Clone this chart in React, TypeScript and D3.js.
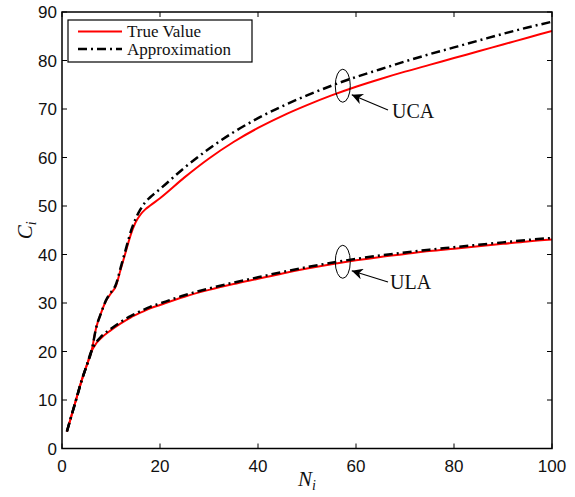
import React from "react";
import * as d3 from "d3";

const xTicks = [0, 20, 40, 60, 80, 100];
const yTicks = [0, 10, 20, 30, 40, 50, 60, 70, 80, 90];

const ucaN = [1, 2, 3, 4, 5, 6, 7, 8, 9, 10, 11, 12, 13, 14, 15, 16, 17, 18, 20, 25, 30, 35, 40, 45, 50, 55, 60, 65, 70, 75, 80, 85, 90, 95, 100];
const ucaTrue = [3.5, 7, 10.5, 14, 17, 20, 25, 28, 30.5, 32, 33.5, 37, 40.5, 44, 46.6, 48.2, 49.3, 50.1, 51.6, 55.9, 59.8, 63.2, 66.1, 68.6, 70.8, 72.8, 74.6, 76.2, 77.7, 79.1, 80.5, 81.9, 83.3, 84.7, 86.1];
const ucaApprox = [3.5, 7, 10.5, 14, 17, 20, 25, 28, 30.6, 32.2, 33.8, 37.4, 41, 44.6, 47.3, 49.3, 50.8, 51.8, 53.5, 57.9, 61.8, 65.2, 68.1, 70.6, 72.8, 74.8, 76.6, 78.2, 79.8, 81.3, 82.7, 84.1, 85.5, 86.8, 88];

const ulaN = [1, 2, 3, 4, 5, 6, 7, 8, 10, 12, 14, 16, 18, 20, 25, 30, 35, 40, 45, 50, 55, 60, 65, 70, 75, 80, 85, 90, 95, 100];
const ulaTrue = [3.5, 7, 10.5, 14, 17, 20, 21.7, 22.8, 24.4, 25.8, 27, 28, 28.9, 29.6, 31.3, 32.7, 33.9, 35, 36.1, 37.1, 38, 38.8, 39.5, 40.1, 40.7, 41.2, 41.7, 42.2, 42.7, 43.1];
const ulaApprox = [3.5, 7, 10.5, 14, 17, 20.1, 21.9, 23.1, 24.7, 26.1, 27.3, 28.3, 29.2, 29.9, 31.6, 33, 34.2, 35.3, 36.4, 37.4, 38.3, 39.1, 39.8, 40.4, 41, 41.5, 42, 42.5, 43, 43.4];

const L = 62, R = 552, T = 12, B = 448.5;

export default function App() {
  const x = d3.scaleLinear().domain([0, 100]).range([L, R]);
  const y = d3.scaleLinear().domain([0, 90]).range([B, T]);
  const line = (xs: number[], ys: number[]) =>
    d3.line<number>().x((_, i) => x(xs[i])).y((d) => y(d)).curve(d3.curveMonotoneX)(ys) || "";

  const dashDot = "9,4,2,4";
  const tickFont = "'Liberation Sans', Arial, sans-serif";
  const serif = "'Liberation Serif', 'Times New Roman', serif";

  const ucaX = 57.3, ucaY = 74.8;
  const ulaX = 57.3, ulaY = 38.5;

  return (
    <svg width={575} height={497} style={{ position: "absolute", left: 0, top: 0, background: "#fff" }}>
      <defs>
        <marker id="ah" viewBox="0 0 10 10" refX="10" refY="5" markerWidth="13" markerHeight="11" orient="auto" markerUnits="userSpaceOnUse">
          <path d="M10,5 L0,0 L3,5 L0,10 Z" fill="#000" />
        </marker>
        <clipPath id="clip"><rect x={L} y={T} width={R - L} height={B - T} /></clipPath>
      </defs>
      <rect x={0} y={0} width={575} height={497} fill="#fff" />
      <g clipPath="url(#clip)" fill="none">
        <path d={line(ucaN, ucaTrue)} stroke="#ff0000" strokeWidth={2} />
        <path d={line(ulaN, ulaTrue)} stroke="#ff0000" strokeWidth={2} />
        <path d={line(ucaN, ucaApprox)} stroke="#000" strokeWidth={2.5} strokeDasharray={dashDot} />
        <path d={line(ulaN, ulaApprox)} stroke="#000" strokeWidth={2.5} strokeDasharray={dashDot} />
      </g>
      <rect x={L} y={T} width={R - L} height={B - T} fill="none" stroke="#000" strokeWidth={1.5} />
      {xTicks.map((t) => (
        <g key={"x" + t}>
          <line x1={x(t)} x2={x(t)} y1={B} y2={B - 5} stroke="#000" strokeWidth={1} />
          <line x1={x(t)} x2={x(t)} y1={T} y2={T + 5} stroke="#000" strokeWidth={1} />
          <text x={x(t)} y={472} textAnchor="middle" fontFamily={tickFont} fontSize={17} fill="#111">{t}</text>
        </g>
      ))}
      {yTicks.map((t) => (
        <g key={"y" + t}>
          <line x1={L} x2={L + 5} y1={y(t)} y2={y(t)} stroke="#000" strokeWidth={1} />
          <line x1={R} x2={R - 5} y1={y(t)} y2={y(t)} stroke="#000" strokeWidth={1} />
          <text x={57} y={y(t)} dy="0.36em" textAnchor="end" fontFamily={tickFont} fontSize={17} fill="#111">{t}</text>
        </g>
      ))}
      <text x={(L + R) / 2} y={486} textAnchor="middle" fontFamily={serif} fontStyle="italic" fontSize={21} fill="#111">
        N<tspan fontSize={14} dy={4}>i</tspan>
      </text>
      <text transform={`translate(32,${(T + B) / 2}) rotate(-90)`} textAnchor="middle" fontFamily={serif} fontStyle="italic" fontSize={21} fill="#111">
        C<tspan fontSize={14} dy={4}>i</tspan>
      </text>
      <rect x={68} y={20} width={184} height={42} fill="#fff" stroke="#000" strokeWidth={1.2} />
      <line x1={78} x2={122} y1={31.5} y2={31.5} stroke="#ff0000" strokeWidth={2} />
      <line x1={78} x2={122} y1={49} y2={49} stroke="#000" strokeWidth={2.5} strokeDasharray={dashDot} />
      <text x={127} y={31.5} dy="0.33em" fontFamily={serif} fontSize={17} fill="#111">True Value</text>
      <text x={127} y={49} dy="0.33em" fontFamily={serif} fontSize={17} fill="#111">Approximation</text>
      <ellipse cx={x(ucaX)} cy={y(ucaY)} rx={7.5} ry={16.5} fill="none" stroke="#000" strokeWidth={1} />
      <line x1={388} y1={110} x2={x(ucaX) + 9} y2={y(ucaY) + 9} stroke="#000" strokeWidth={1.2} markerEnd="url(#ah)" />
      <text x={392} y={118} fontFamily={serif} fontSize={20} fill="#111">UCA</text>
      <ellipse cx={x(ulaX)} cy={y(ulaY)} rx={7.5} ry={16.5} fill="none" stroke="#000" strokeWidth={1} />
      <line x1={388} y1={282} x2={x(ulaX) + 9} y2={y(ulaY) + 9} stroke="#000" strokeWidth={1.2} markerEnd="url(#ah)" />
      <text x={390} y={289} fontFamily={serif} fontSize={20} fill="#111">ULA</text>
    </svg>
  );
}
